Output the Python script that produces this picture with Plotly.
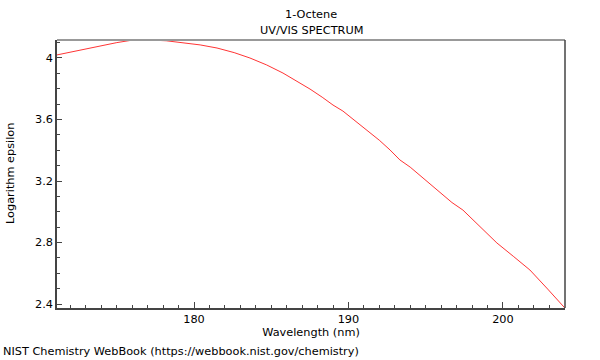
import plotly.graph_objects as go

wavelength = [171.13, 172.5, 173.92, 175.0, 176.05, 177.15, 178.2, 179.29, 180.4, 181.49,
              182.6, 183.62, 184.7, 185.76, 186.6, 187.51, 188.3, 189.0, 189.64, 190.4,
              191.2, 192.0, 192.69, 193.33, 194.0, 195.0, 195.92, 196.7, 197.41, 198.5,
              199.61, 200.7, 201.75, 202.9, 203.5, 204.01]
log_eps = [4.020, 4.050, 4.078, 4.100, 4.117, 4.117, 4.112, 4.100, 4.085, 4.065,
           4.035, 4.000, 3.955, 3.902, 3.852, 3.798, 3.745, 3.694, 3.655, 3.595,
           3.532, 3.465, 3.402, 3.337, 3.290, 3.205, 3.122, 3.060, 3.011, 2.905,
           2.797, 2.708, 2.621, 2.497, 2.428, 2.374]

x_tickvals = [180, 190, 200]
y_tickvals = [2.4, 2.8, 3.2, 3.6, 4.0]
y_ticktext = ["2.4", "2.8", "3.2", "3.6", "4"]

fig = go.Figure()
fig.add_trace(go.Scatter(x=wavelength, y=log_eps, mode="lines",
                         line=dict(color="#ff0000", width=0.8), showlegend=False))

font = dict(family="DejaVu Sans", size=11.3, color="#000")

fig.update_layout(
    width=600, height=360,
    margin=dict(l=57, r=35, t=40, b=52),
    paper_bgcolor="white", plot_bgcolor="white",
    font=font,
    shapes=[
        dict(type="line", xref="paper", yref="paper", x0=0, x1=1, y0=1, y1=1,
             line=dict(color="#999999", width=2), layer="above"),
        dict(type="line", xref="paper", yref="paper", x0=1, x1=1, y0=0, y1=1,
             line=dict(color="#444444", width=1.5), layer="above"),
    ],
    annotations=[
        dict(text="1-Octene", x=0.5, y=1, xref="paper", yref="paper", xanchor="center",
             yanchor="bottom", yshift=17, showarrow=False, font=font),
        dict(text="UV/VIS SPECTRUM", x=0.5, y=1, xref="paper", yref="paper", xanchor="center",
             yanchor="bottom", yshift=1, showarrow=False, font=font),
        dict(text="Logarithm epsilon", x=0, y=0.5, xref="paper", yref="paper",
             xanchor="center", yanchor="middle", xshift=-47, textangle=-90,
             showarrow=False, font=font),
        dict(text="NIST Chemistry WebBook (https://webbook.nist.gov/chemistry)", x=0, y=0,
             xref="paper", yref="paper", xanchor="left", yanchor="bottom",
             xshift=-57 + 1, yshift=-52 + 0, showarrow=False, font=font),
    ],
)

fig.update_xaxes(range=[171.13, 204.02], tickvals=x_tickvals, ticks="inside", ticklen=6,
                 tickcolor="#444", showline=True, linecolor="#444", linewidth=1.5,
                 showgrid=False, zeroline=False,
                 minor=dict(dtick=1, tick0=180, ticks="inside", ticklen=3, tickcolor="#444"),
                 title=dict(text="Wavelength (nm)", standoff=2, font=font))
fig.update_yaxes(range=[2.374, 4.117], tickvals=y_tickvals, ticktext=y_ticktext,
                 ticks="inside", ticklen=5, tickcolor="#444", showline=True,
                 linecolor="#444", linewidth=1.5, showgrid=False, zeroline=False,
                 minor=dict(dtick=0.1, tick0=2.4, ticks="inside", ticklen=3, tickcolor="#444"))

fig.write_html("out.html", config={"displayModeBar": False},
               post_script="document.body.style.margin='0';")
